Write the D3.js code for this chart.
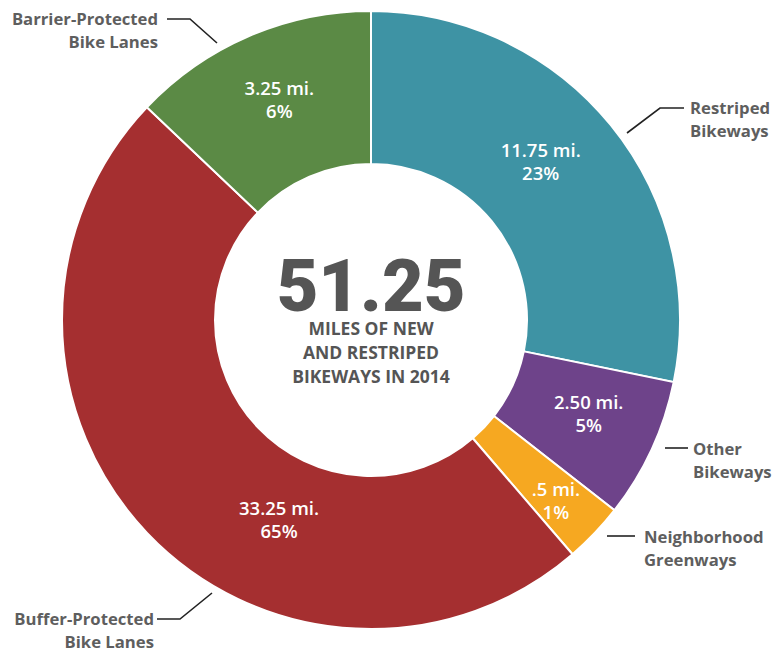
<!DOCTYPE html>
<meta charset="utf-8">
<script src="https://d3js.org/d3.v7.min.js"></script>
<title>Bikeways 2014</title>
<style>
  body { margin: 0; background: white; }
  svg { display: block; font-family: "Open Sans", "Noto Sans", sans-serif; }
  .inlabel { fill: white; font-weight: 600; font-size: 18.5px; }
  .outlabel { fill: #5e5e5e; font-weight: 700; font-size: 16.7px; }
  .leader { fill: none; stroke: #222; stroke-width: 1.6; }
</style>
<body>
<div id="chart"></div>
<script>
// categories in drawing order, clockwise from 12 o'clock
var categories = ["Restriped Bikeways", "Other Bikeways", "Neighborhood Greenways", "Buffer-Protected Bike Lanes", "Barrier-Protected Bike Lanes"];
var miles = ["11.75", "2.50", ".5", "33.25", "3.25"];
var percents = ["23%", "5%", "1%", "65%", "6%"];
// share of the ring each slice takes as drawn in the picture (degrees)
var arcShare = [101.6, 26.4, 11.3, 174.2, 46.5];
var colors = ["#3e93a4", "#6e438a", "#f6a821", "#a52f30", "#5b8a45"];
var totalMiles = "51.25";
var centerLines = ["MILES OF NEW", "AND RESTRIPED", "BIKEWAYS IN 2014"];

var width = 776, height = 652;
var cx = 371, cy = 320, outerR = 309, innerR = 156;

var svg = d3.select("#chart").append("svg")
    .attr("width", width)
    .attr("height", height);

var g = svg.append("g").attr("transform", "translate(" + cx + "," + cy + ")");

var pie = d3.pie().sort(null).value(function(d) { return d; });
var arcs = pie(arcShare);

var arc = d3.arc().innerRadius(innerR).outerRadius(outerR);

g.selectAll("path.slice")
  .data(arcs)
  .enter().append("path")
    .attr("class", "slice")
    .attr("d", arc)
    .attr("fill", function(d, i) { return colors[i]; })
    .attr("stroke", "white")
    .attr("stroke-width", 2);

// inside labels: radius and angle tweak per slice
var labelR = [232, 237, 259, 220, 238];
var labelShift = [-3.8, -1.5, 0.8, -21.7, 0.6]; // degrees
var lbl = g.selectAll("g.inlab")
  .data(arcs)
  .enter().append("g")
    .attr("class", "inlab")
    .attr("transform", function(d, i) {
      var a = (d.startAngle + d.endAngle) / 2 + labelShift[i] * Math.PI / 180;
      return "translate(" + (labelR[i] * Math.sin(a)) + "," + (-labelR[i] * Math.cos(a)) + ")";
    });
lbl.append("text")
  .attr("class", "inlabel")
  .attr("text-anchor", "middle")
  .attr("y", -5)
  .text(function(d, i) { return miles[i] + " mi."; });
lbl.append("text")
  .attr("class", "inlabel")
  .attr("text-anchor", "middle")
  .attr("y", 18)
  .text(function(d, i) { return percents[i]; });

// center text
g.append("text")
  .attr("text-anchor", "middle")
  .attr("y", -9)
  .attr("fill", "#555")
  .style("font-family", "Roboto, sans-serif")
  .style("font-size", "72px")
  .style("font-weight", 900)
  .text(totalMiles);
g.selectAll("text.sub")
  .data(centerLines)
  .enter().append("text")
    .attr("class", "sub")
    .attr("text-anchor", "middle")
    .attr("y", function(d, i) { return 15 + i * 24; })
    .attr("fill", "#555")
    .style("font-size", "17.5px")
    .style("font-weight", 700)
    .text(function(d) { return d; });

// outside labels with leader lines
var outside = [
  { lines: ["Restriped", "Bikeways"], x: 690, y: 114, anchor: "start", path: [[684, 108], [660, 108], [627, 133]] },
  { lines: ["Other", "Bikeways"], x: 693, y: 455, anchor: "start", path: [[665, 448], [688, 448]] },
  { lines: ["Neighborhood", "Greenways"], x: 644, y: 543, anchor: "start", path: [[607, 536], [635, 536]] },
  { lines: ["Buffer-Protected", "Bike Lanes"], x: 154, y: 625, anchor: "end", path: [[157, 619], [180, 619], [212, 593]] },
  { lines: ["Barrier-Protected", "Bike Lanes"], x: 158, y: 25, anchor: "end", path: [[167, 19], [190, 19], [217, 43]] }
];

var line = d3.line();
svg.selectAll("path.leader")
  .data(outside)
  .enter().append("path")
    .attr("class", "leader")
    .attr("d", function(d) { return line(d.path); });

var ol = svg.selectAll("g.outlab")
  .data(outside)
  .enter().append("g")
    .attr("class", "outlab");
ol.selectAll("text")
  .data(function(d) { return d.lines.map(function(t, i) { return { t: t, i: i, p: d }; }); })
  .enter().append("text")
    .attr("class", "outlabel")
    .attr("x", function(d) { return d.p.x; })
    .attr("y", function(d) { return d.p.y + d.i * 22.5; })
    .attr("text-anchor", function(d) { return d.p.anchor; })
    .text(function(d) { return d.t; });
</script>
</body>
